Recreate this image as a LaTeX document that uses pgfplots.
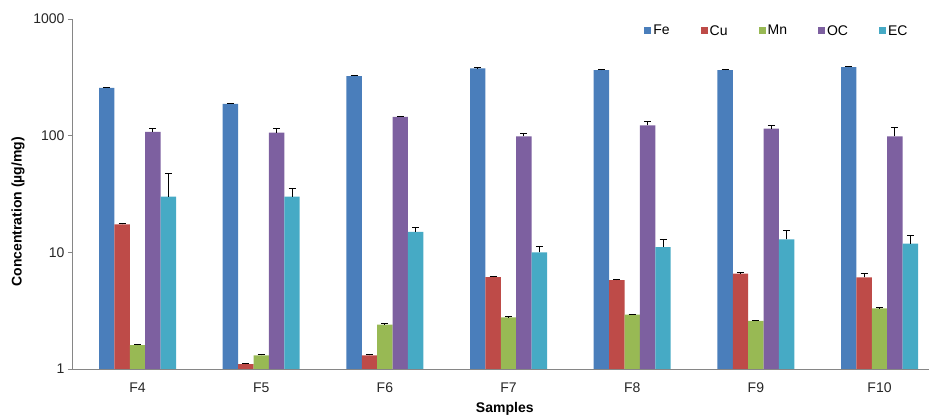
\documentclass[border=0pt]{standalone}
\usepackage{pgfplots}
\pgfplotsset{compat=1.18}
\usepackage{pgfplotstable}
\usepackage{fontspec}
\setmainfont{Liberation Sans}
\definecolor{cFe}{HTML}{4A7EBB}
\definecolor{cCu}{HTML}{BE4B48}
\definecolor{cMn}{HTML}{98B954}
\definecolor{cOC}{HTML}{7D60A0}
\definecolor{cEC}{HTML}{46AAC5}
\definecolor{axisgray}{HTML}{868686}

\pgfplotstableread{
x Fe FeE Cu CuE Mn MnE OC OCE EC ECE
0 257 4 17.4 0.3 1.60 0.03 108 7 30 17
1 187 3 1.10 0.02 1.31 0.03 106 9 30 5
2 324 5 1.31 0.03 2.40 0.05 145 2 15 1.2
3 378 5 6.14 0.10 2.77 0.03 98.6 6.4 10 1.3
4 365 5 5.79 0.10 2.92 0.04 122.5 10.5 11.1 1.9
5 365 5 6.56 0.10 2.59 0.04 115 7 12.9 2.6
6 387 5 6.10 0.46 3.31 0.05 98.6 19.4 11.9 2.0
}\data

\begin{document}
\begin{tikzpicture}
\path[use as bounding box] (-72pt,-48pt) rectangle (857pt,369pt);
\begin{axis}[
  at={(0,0)}, anchor=south west,
  width=857pt, height=350pt, scale only axis,
  ymode=log, ymin=1, ymax=1000,
  xmin=-0.53, xmax=6.4,
  ybar=0pt, bar width=15.4pt,
  xtick={0,1,2,3,4,5,6},
  xticklabels={F4,F5,F6,F7,F8,F9,F10},
  ytick={1,10,100,1000},
  yticklabels={1,10,100,1000},
  yminorticks=false,
  axis x line*=bottom, axis y line*=left,
  axis line style={draw=axisgray, line width=0.9pt, -},
  y tick style={draw=axisgray, line width=0.9pt},
  x tick style={draw=none},
  tick align=outside, major tick length=4pt,
  tick label style={font=\fontsize{14}{16}\selectfont, text=black!85},
  /pgf/number format/assume math mode=true,
  xticklabel style={yshift=-6pt},
  xlabel={Samples}, ylabel={Concentration (µg/mg)},
  label style={font=\fontsize{14}{16}\selectfont\bfseries},
  xlabel style={at={(axis description cs:0.505,-0.114)}, anchor=center},
  ylabel style={at={(axis description cs:-0.063,0.449)}, anchor=center},
  legend columns=5,
  legend style={draw=none, fill=none, font=\fontsize{14}{16}\selectfont,
    at={(rel axis cs:0.981,0.966)}, anchor=east,
    /tikz/every even column/.append style={column sep=29pt}},
  legend image code/.code={\draw[#1,draw=none] (0pt,-3.5pt) rectangle (7pt,3.5pt);},
  error bars/y dir=plus, error bars/y explicit,
  error bars/error bar style={black, line width=1pt},
  error bars/error mark options={black, line width=1pt, mark size=3.5pt, rotate=90},
]
\addplot[fill=cFe, draw=none] table[x=x, y=Fe, y error=FeE] {\data};
\addplot[fill=cCu, draw=none] table[x=x, y=Cu, y error=CuE] {\data};
\addplot[fill=cMn, draw=none] table[x=x, y=Mn, y error=MnE] {\data};
\addplot[fill=cOC, draw=none] table[x=x, y=OC, y error=OCE] {\data};
\addplot[fill=cEC, draw=none] table[x=x, y=EC, y error=ECE] {\data};
\legend{Fe,Cu,Mn,OC,EC}
\end{axis}
\end{tikzpicture}
\end{document}
